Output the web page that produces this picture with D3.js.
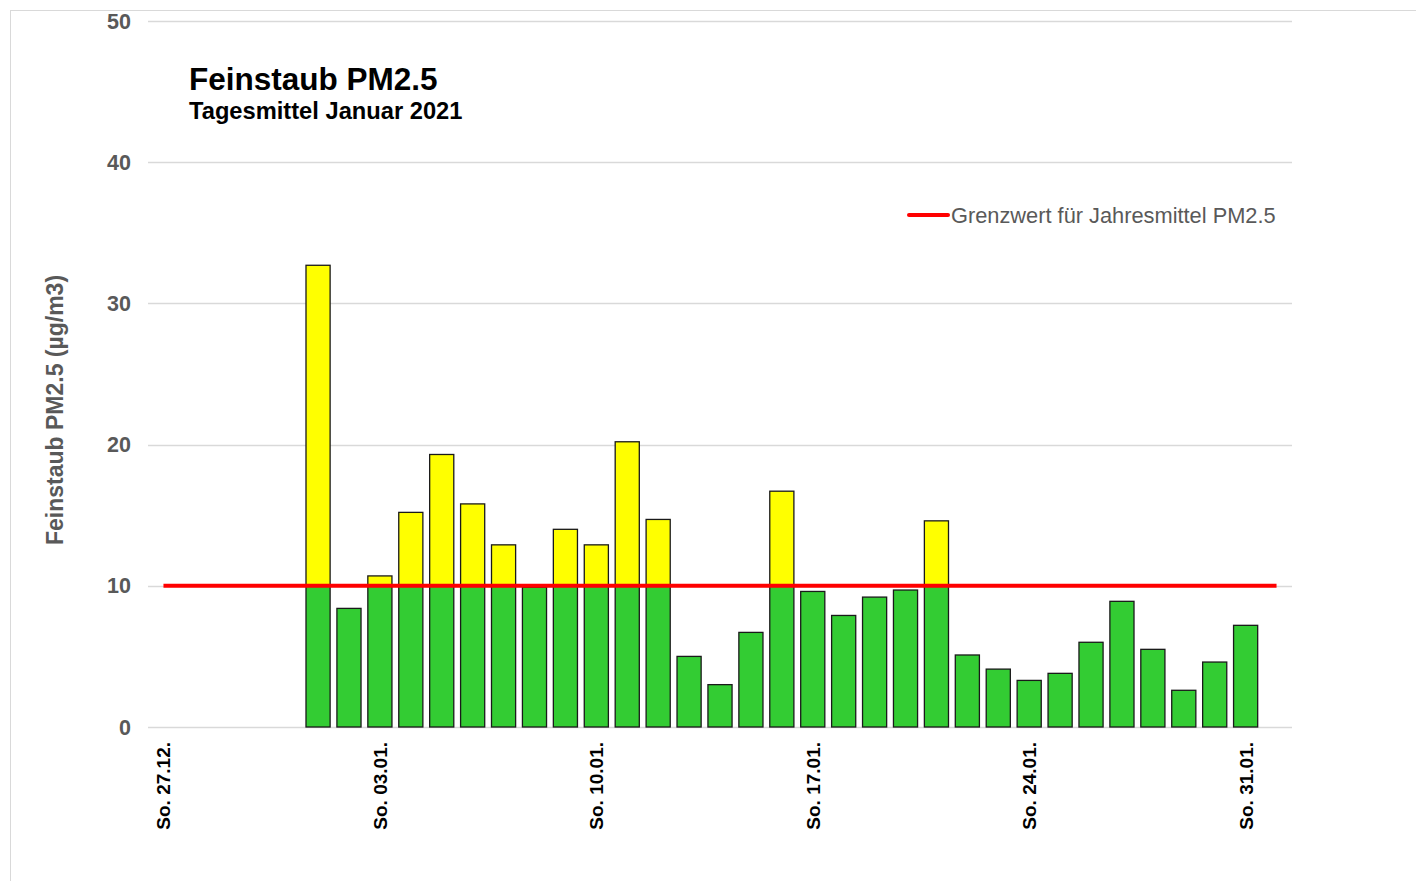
<!DOCTYPE html>
<html>
<head>
<meta charset="utf-8">
<script src="https://cdn.jsdelivr.net/npm/d3@7"></script>
<style>
  body { margin: 0; background: #fff; }
  svg { font-family: "Liberation Sans", Arial, sans-serif; }
</style>
</head>
<body>
<div class="chart"></div>
<script>
// days shown on the x axis (27.12.2020 - 01.02.2021)
const days = [
  "27.12.", "28.12.", "29.12.", "30.12.", "31.12.",
  "01.01.", "02.01.", "03.01.", "04.01.", "05.01.", "06.01.", "07.01.",
  "08.01.", "09.01.", "10.01.", "11.01.", "12.01.", "13.01.", "14.01.",
  "15.01.", "16.01.", "17.01.", "18.01.", "19.01.", "20.01.", "21.01.",
  "22.01.", "23.01.", "24.01.", "25.01.", "26.01.", "27.01.", "28.01.",
  "29.01.", "30.01.", "31.01.", "01.02."
];
// daily mean PM2.5 (µg/m3), null = no data
const pm25 = [
  null, null, null, null, null,
  32.7, 8.4, 10.7, 15.2, 19.3, 15.8, 12.9,
  9.9, 14.0, 12.9, 20.2, 14.7, 5.0, 3.0,
  6.7, 16.7, 9.6, 7.9, 9.2, 9.7, 14.6,
  5.1, 4.1, 3.3, 3.8, 6.0, 8.9, 5.5,
  2.6, 4.6, 7.2, null
];
const sundayLabels = ["27.12.", "03.01.", "10.01.", "17.01.", "24.01.", "31.01."];
const limit = 10;
const yTicks = [0, 10, 20, 30, 40, 50];

const width = 1416;
const height = 881;
const margin = { left: 148, right: 124, top: 21, bottom: 154 };

const svg = d3.select(".chart").append("svg")
  .attr("width", width)
  .attr("height", height);

// outer frame
svg.append("rect")
  .attr("x", 10.5).attr("y", 10.5)
  .attr("width", width + 20).attr("height", height + 20)
  .attr("fill", "none")
  .attr("stroke", "#d9d9d9");

const x = d3.scaleBand()
  .domain(days)
  .range([margin.left, width - margin.right])
  .paddingInner(0.22)
  .paddingOuter(0.11);

const y = d3.scaleLinear()
  .domain([0, 50])
  .range([height - margin.bottom, margin.top]);

// grid lines
svg.append("g")
  .selectAll("line")
  .data(yTicks)
  .enter().append("line")
  .attr("x1", margin.left)
  .attr("x2", width - margin.right)
  .attr("y1", d => Math.round(y(d)) + 0.5)
  .attr("y2", d => Math.round(y(d)) + 0.5)
  .attr("stroke", "#d9d9d9")
  .attr("stroke-width", 1.5);

// y tick labels
svg.append("g")
  .selectAll("text")
  .data(yTicks)
  .enter().append("text")
  .attr("x", 131)
  .attr("y", d => y(d))
  .attr("dy", "0.35em")
  .attr("text-anchor", "end")
  .style("font-size", "21.5px")
  .style("font-weight", "bold")
  .style("fill", "#595959")
  .text(d => d);

// y axis title
svg.append("text")
  .attr("transform", "translate(63,410) rotate(-90)")
  .attr("text-anchor", "middle")
  .style("font-size", "23px")
  .style("font-weight", "bold")
  .style("fill", "#595959")
  .text("Feinstaub PM2.5 (µg/m3)");

const barData = days.map((d, i) => ({ day: d, v: pm25[i] })).filter(d => d.v != null);

// green part (up to the limit)
svg.append("g")
  .selectAll("rect")
  .data(barData)
  .enter().append("rect")
  .attr("x", d => x(d.day))
  .attr("width", x.bandwidth())
  .attr("y", d => y(Math.min(d.v, limit)))
  .attr("height", d => y(0) - y(Math.min(d.v, limit)))
  .attr("fill", "#33cc33")
  .attr("stroke", "#1a1a1a")
  .attr("stroke-width", 1.3);

// yellow part (above the limit)
svg.append("g")
  .selectAll("rect")
  .data(barData.filter(d => d.v > limit))
  .enter().append("rect")
  .attr("x", d => x(d.day))
  .attr("width", x.bandwidth())
  .attr("y", d => y(d.v))
  .attr("height", d => y(limit) - y(d.v))
  .attr("fill", "#ffff00")
  .attr("stroke", "#1a1a1a")
  .attr("stroke-width", 1.3);

// limit line
svg.append("line")
  .attr("x1", x(days[0]) + x.bandwidth() / 2)
  .attr("x2", x(days[days.length - 1]) + x.bandwidth() / 2)
  .attr("y1", y(limit))
  .attr("y2", y(limit))
  .attr("stroke", "#ff0000")
  .attr("stroke-width", 4);

// x labels (sundays)
svg.append("g")
  .selectAll("text")
  .data(sundayLabels)
  .enter().append("text")
  .attr("transform", d => `translate(${x(d) + x.bandwidth() / 2 + 7},742) rotate(-90)`)
  .attr("text-anchor", "end")
  .style("font-size", "19px")
  .style("font-weight", "bold")
  .style("fill", "#000")
  .text(d => "So. " + d);

// title
svg.append("text")
  .attr("x", 189).attr("y", 90)
  .style("font-size", "31.5px")
  .style("font-weight", "bold")
  .text("Feinstaub PM2.5");

svg.append("text")
  .attr("x", 189).attr("y", 119)
  .style("font-size", "23.7px")
  .style("font-weight", "bold")
  .text("Tagesmittel Januar 2021");

// legend
svg.append("line")
  .attr("x1", 909).attr("x2", 948)
  .attr("y1", 215).attr("y2", 215)
  .attr("stroke", "#ff0000")
  .attr("stroke-width", 4)
  .attr("stroke-linecap", "round");

svg.append("text")
  .attr("x", 951).attr("y", 215)
  .attr("dy", "0.35em")
  .style("font-size", "21.8px")
  .style("fill", "#595959")
  .text("Grenzwert für Jahresmittel PM2.5");
</script>
</body>
</html>
